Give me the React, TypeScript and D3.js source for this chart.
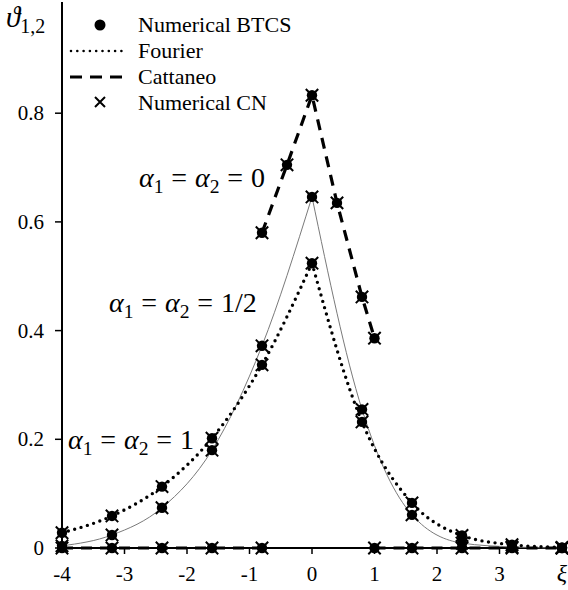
import React from "react";
import * as d3 from "d3";

// ---- data ----
const xGrid = [-4, -3.2, -2.4, -1.6, -0.8, 0, 0.8, 1.6, 2.4, 3.2, 4];
// alpha1 = alpha2 = 1 (Fourier, dotted)
const fourierVals = [0.028, 0.059, 0.113, 0.202, 0.337, 0.524, 0.232, 0.083, 0.023, 0.006, 0.001];
// alpha1 = alpha2 = 1/2 (thin solid)
const fracVals = [0.004, 0.024, 0.074, 0.18, 0.372, 0.646, 0.255, 0.061, 0.009, 0.002, 0.0];
// alpha1 = alpha2 = 0 (Cattaneo, dashed)
const cattX = [-0.8, -0.4, 0, 0.4, 0.8, 1.0];
const cattVals = [0.58, 0.705, 0.833, 0.635, 0.462, 0.386];
// zero part of Cattaneo solution outside the front
const zeroLeftX = [-4, -3.2, -2.4, -1.6, -0.8];
const zeroRightX = [1.0, 1.6, 2.4, 3.2, 4];

const xTicks = [-4, -3, -2, -1, 0, 1, 2, 3];
const xTickLabels = ["-4", "-3", "-2", "-1", "0", "1", "2", "3"];
const yTicks = [0, 0.2, 0.4, 0.6, 0.8];
const yTickLabels = ["0", "0.2", "0.4", "0.6", "0.8"];

const legendItems = ["Numerical BTCS", "Fourier", "Cattaneo", "Numerical CN"];

const W = 568;
const H = 590;
const FONT = "'Liberation Serif', 'DejaVu Serif', serif";

type P = { x: number; y: number };

function zip(xs: number[], ys: number[]): P[] {
  return xs.map((x, i) => ({ x, y: ys[i] }));
}

function Cross({ cx, cy, s }: { cx: number; cy: number; s: number }) {
  return (
    <path
      d={`M${cx - s},${cy - s}L${cx + s},${cy + s}M${cx - s},${cy + s}L${cx + s},${cy - s}`}
      stroke="#000"
      strokeWidth={2}
      fill="none"
    />
  );
}

function AlphaLabel({ x, y, value, size }: { x: number; y: number; value: string; size: number }) {
  const sub = size * 0.7;
  const gap = size * 0.28;
  return (
    <text x={x} y={y} fontFamily={FONT} fontSize={size} fill="#000">
      <tspan fontStyle="italic">α</tspan>
      <tspan fontSize={sub} dy={size * 0.22}>1</tspan>
      <tspan dx={gap} dy={-size * 0.22}>=</tspan>
      <tspan dx={gap} fontStyle="italic">α</tspan>
      <tspan fontSize={sub} dy={size * 0.22}>2</tspan>
      <tspan dx={gap} dy={-size * 0.22}>=</tspan>
      <tspan dx={gap}>{value}</tspan>
    </text>
  );
}

export default function App() {
  const x = d3.scaleLinear().domain([-4, 4]).range([62, 562]);
  const y = d3.scaleLinear().domain([0, 1]).range([548, 4.5]);

  const smooth = d3
    .line<P>()
    .x((d) => x(d.x))
    .y((d) => y(d.y))
    .curve(d3.curveMonotoneX);
  const straight = d3
    .line<P>()
    .x((d) => x(d.x))
    .y((d) => y(d.y));

  const fourier = zip(xGrid, fourierVals);
  const frac = zip(xGrid, fracVals);
  const catt = zip(cattX, cattVals);
  const zeros = [...zeroLeftX, ...zeroRightX].map((v) => ({ x: v, y: 0 }));

  const left = (arr: P[]) => arr.filter((d) => d.x <= 0);
  const right = (arr: P[]) => arr.filter((d) => d.x >= 0);
  const ends = (xs: number[]) => [xs[0], xs[xs.length - 1]].map((v) => ({ x: v, y: 0 }));

  const allPoints: P[] = [...fourier, ...frac, ...catt, ...zeros];

  const x0 = x(-4);
  const y0 = y(0);

  return (
    <div style={{ position: "absolute", left: 0, top: 0 }}>
      <svg width={W} height={H} viewBox={`0 0 ${W} ${H}`} style={{ display: "block", background: "#fff" }}>
        {/* axes */}
        <line x1={x0} y1={y0} x2={566} y2={y0} stroke="#000" strokeWidth={2} />
        <line x1={x0} y1={y0 + 1} x2={x0} y2={2} stroke="#000" strokeWidth={2} />
        {xTicks.slice(1).map((t) => (
          <line key={"xt" + t} x1={x(t)} x2={x(t)} y1={y0} y2={y0 + 6} stroke="#000" strokeWidth={1.5} />
        ))}
        {yTicks.map((t) => (
          <line key={"yt" + t} x1={x0 - 7} x2={x0} y1={y(t)} y2={y(t)} stroke="#000" strokeWidth={1.5} />
        ))}
        {xTicks.map((t, i) => (
          <text key={"xl" + t} x={x(t)} y={581} textAnchor="middle" fontFamily={FONT} fontSize={21} fill="#000">
            {xTickLabels[i]}
          </text>
        ))}
        <text x={x(4)} y={581} textAnchor="middle" fontFamily={FONT} fontSize={24} fontStyle="italic" fill="#000">
          ξ
        </text>
        {yTicks.map((t, i) => (
          <text
            key={"yl" + t}
            x={44}
            y={y(t)}
            dy="0.34em"
            textAnchor="end"
            fontFamily={FONT}
            fontSize={21}
            fill="#000"
          >
            {yTickLabels[i]}
          </text>
        ))}
        {/* axis title */}
        <text x={6} y={27} fontFamily={FONT} fontSize={29} fill="#000">
          <tspan fontStyle="italic">ϑ</tspan>
          <tspan fontSize={20} dy={6}>1,2</tspan>
        </text>

        {/* curves */}
        <path d={smooth(left(frac)) || ""} fill="none" stroke="#7a7a7a" strokeWidth={1} />
        <path d={smooth(right(frac)) || ""} fill="none" stroke="#7a7a7a" strokeWidth={1} />
        <path
          d={smooth(left(fourier)) || ""}
          fill="none"
          stroke="#000"
          strokeWidth={3.4}
          strokeLinecap="round"
          strokeDasharray="0 6.6"
        />
        <path
          d={smooth(right(fourier)) || ""}
          fill="none"
          stroke="#000"
          strokeWidth={3.4}
          strokeLinecap="round"
          strokeDasharray="0 6.6"
        />
        <path d={straight(catt) || ""} fill="none" stroke="#000" strokeWidth={3.2} strokeDasharray="11 8" />
        <path d={straight(ends(zeroLeftX)) || ""} fill="none" stroke="#000" strokeWidth={3.2} strokeDasharray="11 8" />
        <path d={straight(ends(zeroRightX)) || ""} fill="none" stroke="#000" strokeWidth={3.2} strokeDasharray="11 8" />

        {/* markers: BTCS circles and CN crosses */}
        {allPoints.map((d, i) => (
          <g key={"m" + i}>
            <circle cx={x(d.x)} cy={y(d.y)} r={5.2} fill="#000" />
            <Cross cx={x(d.x)} cy={y(d.y)} s={6.2} />
          </g>
        ))}

        {/* parameter labels */}
        <AlphaLabel x={139} y={187} value="0" size={28} />
        <AlphaLabel x={109} y={312} value="1/2" size={28} />
        <AlphaLabel x={68} y={449} value="1" size={28} />

        {/* legend */}
        <circle cx={100} cy={25} r={5.5} fill="#000" />
        <line x1={71} x2={122} y1={51} y2={51} stroke="#000" strokeWidth={2.6} strokeLinecap="round" strokeDasharray="0 6.3" />
        <line x1={70} x2={122} y1={77} y2={77} stroke="#000" strokeWidth={3} strokeDasharray="12 8" />
        <Cross cx={100} cy={102} s={5} />
        {legendItems.map((t, i) => (
          <text key={t} x={138} y={25 + i * 25.8} dy="0.34em" fontFamily={FONT} fontSize={22} fill="#000">
            {t}
          </text>
        ))}
      </svg>
    </div>
  );
}
